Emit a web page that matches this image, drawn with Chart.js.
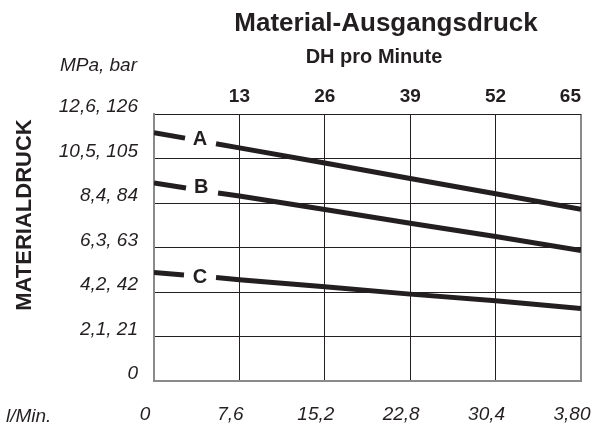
<!DOCTYPE html>
<html>
<head>
<meta charset="utf-8">
<script src="https://cdn.jsdelivr.net/npm/chart.js@4"></script>
<style>
  html, body { margin: 0; padding: 0; background: #ffffff; }
  #c { display: block; }
</style>
</head>
<body>
<canvas id="c" width="592" height="425"></canvas>
<script>
// ---- data ----
const flowTicks = [0, 7.6, 15.2, 22.8, 30.4, 38.0];            // l/Min. (bottom axis)
const flowTickLabels = ['0', '7,6', '15,2', '22,8', '30,4', '3,80'];
const dhTicks = [0, 13, 26, 39, 52, 65];                         // DH pro Minute (top axis)
const dhTickLabels = ['', '13', '26', '39', '52', '65'];
const pressureTicks = [0, 21, 42, 63, 84, 105, 126];             // bar
const pressureTickLabels = ['0', '2,1, 21', '4,2, 42', '6,3, 63', '8,4, 84', '10,5, 105', '12,6, 126'];

const seriesNames = ['A', 'B', 'C'];
const flowA = [0, 2.76, 4.1, 5.52, 7.6, 15.2, 22.8, 30.4, 38.0];
const pressA = [117.2, 114.6, null, 112.0, 110.0, 102.9, 95.6, 88.4, 81.0];
const flowB = [0, 2.85, 4.2, 5.70, 7.6, 15.2, 22.8, 30.4, 38.0];
const pressB = [93.5, 91.1, null, 88.7, 87.3, 80.9, 74.4, 68.2, 61.6];
const flowC = [0, 2.67, 4.1, 5.52, 7.6, 15.2, 22.8, 30.4, 38.0];
const pressC = [51.2, 50.0, null, 48.8, 47.8, 44.5, 41.0, 37.9, 34.2];
const labelFlow = [4.1, 4.2, 4.1];
const labelPress = [114.5, 91.7, 49.1];

const FONT = "'Liberation Sans', Arial, Helvetica, sans-serif";
const INK = '#231f20';
const EDGE = '#8a8a8a';

function pts(xs, ys) { return xs.map((x, i) => ({ x: x, y: ys[i] })); }

const flows = [flowA, flowB, flowC];
const presses = [pressA, pressB, pressC];

const textPlugin = {
  id: 'texts',
  afterDraw(chart) {
    const ctx = chart.ctx;
    const xs = chart.scales.x, ys = chart.scales.y;
    ctx.save();
    ctx.fillStyle = INK;
    // curve labels
    ctx.font = 'bold 20px ' + FONT;
    ctx.textAlign = 'center';
    ctx.textBaseline = 'middle';
    seriesNames.forEach((n, i) => {
      ctx.fillText(n, xs.getPixelForValue(labelFlow[i]), ys.getPixelForValue(labelPress[i]) + 1);
    });
    // titles
    ctx.textBaseline = 'alphabetic';
    ctx.font = 'bold 26px ' + FONT;
    ctx.fillText('Material-Ausgangsdruck', 386, 31);
    ctx.font = 'bold 20px ' + FONT;
    ctx.fillText('DH pro Minute', 374, 63);
    // unit labels
    ctx.font = 'italic 19px ' + FONT;
    ctx.textAlign = 'right';
    ctx.fillText('MPa, bar', 137, 71);
    ctx.textAlign = 'left';
    ctx.fillText('l/Min.', 6, 422);
    // vertical axis title
    ctx.translate(24, 215);
    ctx.rotate(-Math.PI / 2);
    ctx.textAlign = 'center';
    ctx.textBaseline = 'middle';
    ctx.font = 'bold 22px ' + FONT;
    ctx.fillText('MATERIALDRUCK', 0, 1);
    ctx.restore();
  }
};

new Chart(document.getElementById('c'), {
  type: 'line',
  data: {
    datasets: seriesNames.map((n, i) => ({
      label: n,
      data: pts(flows[i], presses[i]),
      borderColor: INK,
      borderWidth: 5,
      pointRadius: 0,
      tension: 0,
      spanGaps: false,
      borderCapStyle: 'butt',
      borderJoinStyle: 'round',
      xAxisID: 'x',
      yAxisID: 'y'
    }))
  },
  options: {
    responsive: false,
    animation: false,
    devicePixelRatio: 1,
    layout: { padding: { left: 0, right: 11, top: 0, bottom: 0 } },
    plugins: { legend: { display: false }, tooltip: { enabled: false }, title: { display: false } },
    scales: {
      x: {
        type: 'linear', position: 'bottom', min: 0, max: 38,
        afterBuildTicks: s => { s.ticks = flowTicks.map(v => ({ value: v })); },
        afterFit: s => { s.height = 44; s.paddingLeft = 0; s.paddingRight = 0; },
        ticks: {
          callback: (v, i) => flowTickLabels[i],
          font: { family: FONT, size: 19, style: 'italic' },
          color: INK, padding: 22, labelOffset: -9, maxRotation: 0, autoSkip: false
        },
        grid: {
          color: c => (c.tick && c.tick.value === 38) ? EDGE : INK,
          lineWidth: c => (c.tick && c.tick.value === 38) ? 2 : 1,
          drawTicks: false
        },
        border: { display: true, color: EDGE, width: 2 }
      },
      x2: {
        type: 'linear', position: 'top', min: 0, max: 65,
        afterBuildTicks: s => { s.ticks = dhTicks.map(v => ({ value: v })); },
        afterFit: s => { s.height = 114; s.paddingLeft = 0; s.paddingRight = 0; },
        ticks: {
          callback: (v, i) => dhTickLabels[i],
          font: { family: FONT, size: 19, weight: 'bold' },
          color: INK, padding: 6, align: 'inner', maxRotation: 0, autoSkip: false
        },
        grid: { display: false, drawTicks: false },
        border: { display: false }
      },
      y: {
        type: 'linear', position: 'left', min: 0, max: 126,
        afterBuildTicks: s => { s.ticks = pressureTicks.map(v => ({ value: v })); },
        afterFit: s => { s.width = 154; s.paddingTop = 0; s.paddingBottom = 0; },
        ticks: {
          callback: (v, i) => pressureTickLabels[i],
          font: { family: FONT, size: 19, style: 'italic' },
          color: INK, padding: 16, labelOffset: -7, autoSkip: false
        },
        grid: { color: INK, lineWidth: 1, drawTicks: false },
        border: { display: true, color: EDGE, width: 2 }
      }
    }
  },
  plugins: [textPlugin]
});
</script>
</body>
</html>
